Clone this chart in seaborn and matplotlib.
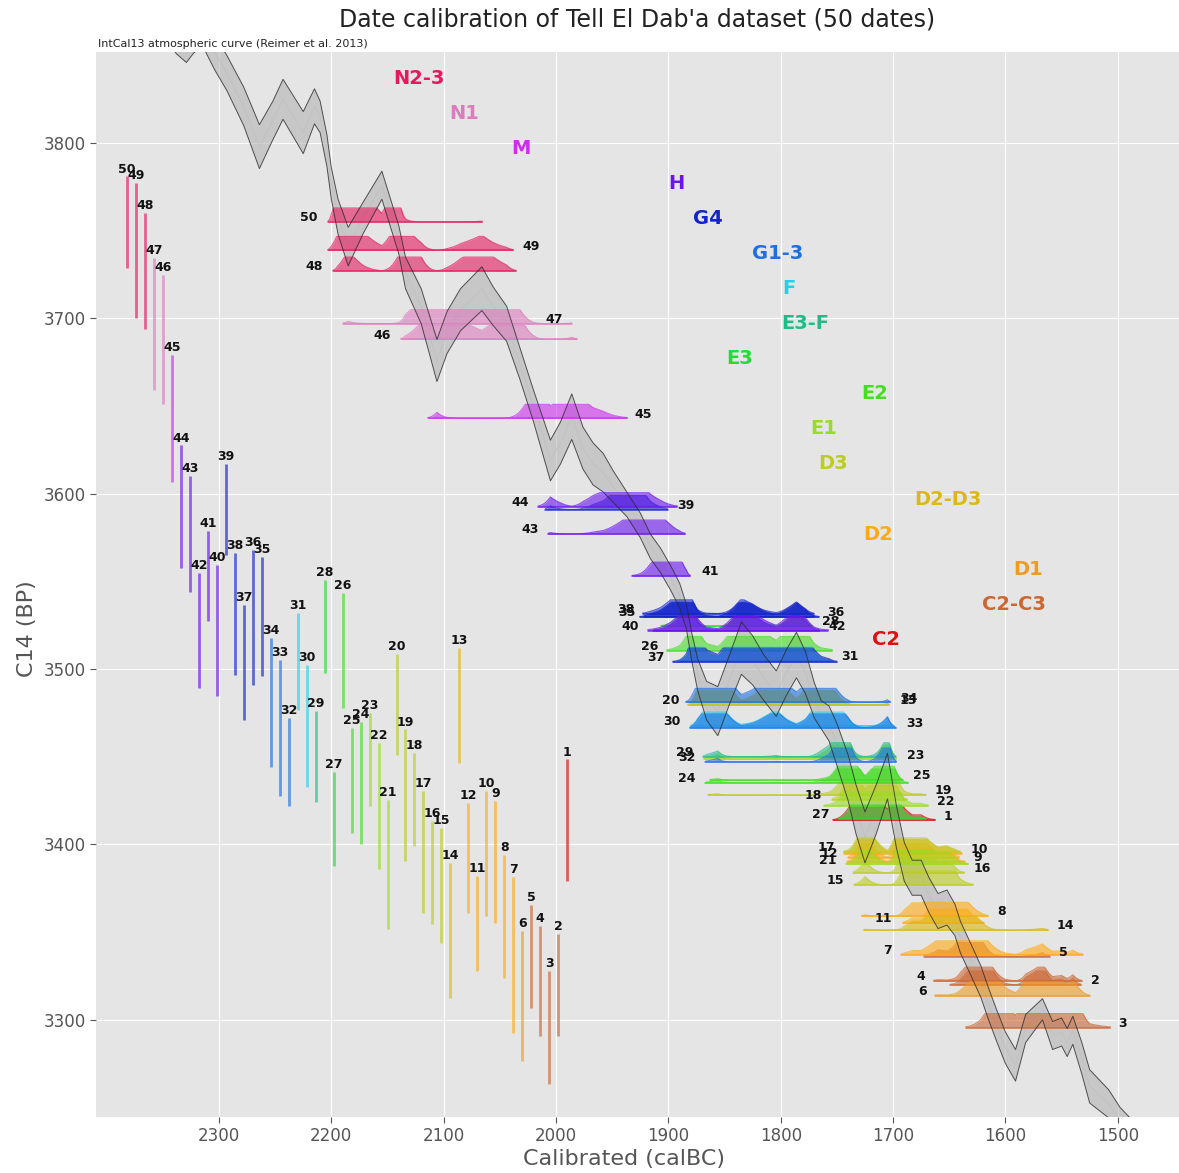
import numpy as np
import pandas as pd
import matplotlib
matplotlib.use("Agg")
import matplotlib.pyplot as plt
import seaborn as sns

# ---------------- calibration curve (IntCal13) ----------------
curve_year = [2410, 2380, 2355, 2338, 2329, 2323, 2315, 2304, 2293, 2278, 2264, 2252, 2243, 2225,
              2215, 2210, 2204, 2200, 2194, 2185, 2172, 2155, 2140, 2134, 2120, 2106, 2097, 2085,
              2066, 2056, 2044, 2032, 2020, 2005, 1996, 1986, 1976, 1967, 1958, 1949, 1937, 1925,
              1916, 1907, 1898, 1890, 1884, 1879, 1874, 1866, 1856, 1845, 1835, 1825, 1815, 1804,
              1795, 1786, 1778, 1770, 1764, 1757, 1750, 1740, 1733, 1725, 1715, 1705, 1697, 1690,
              1683, 1675, 1668, 1660, 1652, 1645, 1640, 1632, 1622, 1615, 1608, 1600, 1591, 1582,
              1567, 1558, 1550, 1545, 1540, 1532, 1525, 1508, 1498, 1480, 1440]
curve_c14 = [3905, 3890, 3878, 3861, 3856, 3861, 3866, 3852, 3840, 3821, 3798, 3813, 3825, 3806,
             3821, 3815, 3796, 3777, 3758, 3741, 3757, 3776, 3745, 3726, 3707, 3676, 3692, 3705,
             3717, 3707, 3697, 3674, 3650, 3619, 3629, 3644, 3626, 3617, 3612, 3604, 3594, 3582,
             3570, 3562, 3552, 3542, 3530, 3512, 3497, 3482, 3476, 3495, 3512, 3505, 3495, 3486,
             3498, 3508, 3498, 3482, 3474, 3469, 3457, 3438, 3420, 3404, 3420, 3439, 3410, 3390,
             3381, 3381, 3371, 3362, 3364, 3357, 3347, 3336, 3322, 3309, 3297, 3284, 3274, 3295,
             3306, 3291, 3293, 3287, 3294, 3278, 3262, 3252, 3242, 3230, 3205]
curve_err = [10, 10, 10, 10, 10, 10, 10, 10, 10, 11, 12.5, 11, 11.4, 12,
             10, 9, 9, 9, 10, 11, 9, 8, 8, 9, 10, 12, 12, 12,
             12.5, 11, 10, 9, 9, 11.6, 12, 13, 12, 12, 11, 9, 7, 7,
             7, 7, 7, 7, 7, 8, 9, 11, 14, 14, 15, 14, 13, 13,
             13, 13, 12, 10, 8, 10, 12, 13, 14, 14.5, 14, 13, 12, 11,
             10, 10, 10, 10, 10, 9, 9, 9, 9, 9, 9, 9, 9, 8,
             6, 8, 8, 8, 8, 9, 9.5, 8, 8, 8, 8]

# ---------------- radiocarbon dates ----------------
date_ids = list(range(1, 51))
date_c14 = [3413.7, 3319.8, 3295.5, 3322.0, 3336.0, 3313.6, 3337.0, 3359.0, 3390.0, 3394.8,
            3355.0, 3392.5, 3479.4, 3351.0, 3376.8, 3383.8, 3395.7, 3425.6, 3428.0, 3479.8,
            3388.6, 3422.0, 3448.5, 3435.0, 3436.6, 3510.6, 3414.5, 3524.4, 3450.0, 3467.5,
            3504.5, 3447.0, 3466.4, 3481.0, 3530.0, 3529.6, 3504.0, 3531.5, 3591.0, 3522.0,
            3553.0, 3522.0, 3577.0, 3592.6, 3643.0, 3688.0, 3697.0, 3727.0, 3738.8, 3755.0]
date_err = [17.4, 14.5, 16.2, 15.7, 14.7, 18.5, 22.3, 17.5, 17.3, 17.8,
            13.5, 15.7, 16.4, 19.3, 16.4, 14.7, 17.4, 13.3, 18.8, 14.3,
            18.5, 18.0, 13.3, 17.5, 15.0, 16.4, 13.5, 13.3, 13.0, 17.5,
            13.8, 12.5, 19.5, 18.3, 17.1, 19.2, 16.4, 17.3, 13.0, 18.8,
            12.8, 16.5, 16.5, 17.5, 18.0, 18.4, 18.8, 16.5, 19.3, 13.0]
date_phase = ["C2", "C2-C3", "C2-C3", "C2-C3", "C2-C3", "D1", "D2", "D2", "D2", "D2",
              "D2", "D2", "D2-D3", "D2-D3", "D3", "D3", "D3", "D3", "D3", "D3",
              "E1", "E1", "E1", "E2", "E2", "E2", "E3", "E3", "E3-F", "F",
              "F", "G1-3", "G1-3", "G1-3", "G4", "G4", "G4", "G4", "G4", "H",
              "H", "H", "H", "H", "M", "N1", "N1", "N2-3", "N2-3", "N2-3"]
label_side = ["R", "R", "R", "L", "R", "L", "L", "R", "R", "R",
              "L", "L", "R", "R", "L", "R", "L", "L", "R", "L",
              "L", "R", "R", "L", "R", "L", "L", "R", "L", "L",
              "R", "L", "R", "R", "L", "R", "L", "L", "R", "L",
              "R", "R", "L", "L", "R", "L", "R", "L", "R", "L"]

# ---------------- phases ----------------
phase_names = ["N2-3", "N1", "M", "H", "G4", "G1-3", "F", "E3-F", "E3", "E2", "E1", "D3",
               "D2-D3", "D2", "D1", "C2-C3", "C2"]
phase_colors = ["#E6195E", "#DD7BBE", "#CC2DEE", "#6A14EE", "#1424CC", "#1E6FE6", "#22D2EA",
                "#22BB88", "#22DD33", "#44DD22", "#99DD22", "#BBCC22", "#DDB814", "#FFAA14",
                "#F09A20", "#CC6633", "#DD1111"]
phase_x = [2122, 2082, 2031, 1893, 1865, 1803, 1793, 1778, 1837, 1716, 1762, 1753,
           1651, 1713, 1580, 1592, 1706]
phase_y = [3837, 3817, 3797, 3777, 3757, 3737, 3717, 3697, 3677, 3657, 3637, 3617,
           3597, 3577, 3557, 3537, 3517]

# ---------------- style ----------------
sns.set_style("darkgrid", {"axes.facecolor": "#E5E5E5", "grid.color": "white",
                           "xtick.bottom": True, "ytick.left": True,
                           "axes.edgecolor": "white"})
plt.rcParams["font.family"] = ["DejaVu Sans"]
plt.rcParams["xtick.color"] = "#555555"
plt.rcParams["ytick.color"] = "#555555"
plt.rcParams["xtick.major.size"] = 4
plt.rcParams["ytick.major.size"] = 4

fig = plt.figure(figsize=(11.79, 11.73), dpi=100)
ax = fig.add_axes([0.0814, 0.048, 0.9186, 0.908])

color_of = dict(zip(phase_names, phase_colors))

# calibration curve band
cy = np.array(curve_year, float)
cc = np.array(curve_c14, float)
ce = np.array(curve_err, float)
ax.fill_between(cy, cc - ce, cc + ce, color="#b0b0b0", alpha=0.55, lw=0, zorder=1)
band = pd.DataFrame({"year": cy, "up": cc + ce, "lo": cc - ce, "mid": cc})
sns.lineplot(data=band, x="year", y="mid", color="#c2c2c2", lw=0.8, sort=False,
             estimator=None, ax=ax, zorder=2)
for col in ["up", "lo"]:
    sns.lineplot(data=band, x="year", y=col, color="#2a2a2a", lw=0.7, alpha=0.8,
                 sort=False, estimator=None, ax=ax, zorder=6)

# calibrated distributions (band drawn at +-2 sigma of the curve)
grid = np.arange(2420.0, 1440.0, -0.5)
asc = np.argsort(cy)
mu = np.interp(grid, cy[asc], cc[asc])
sig = np.interp(grid, cy[asc], ce[asc]) / 2.0
ridge_h = 8.0
for n, m, s, ph, side in zip(date_ids, date_c14, date_err, date_phase, label_side):
    colr = color_of[ph]
    var = s ** 2 + sig ** 2
    like = np.exp(-0.5 * (m - mu) ** 2 / var) / np.sqrt(var)
    like = like / like.max()
    idx = np.flatnonzero(like > 0.025)
    lo, hi = idx[0], idx[-1]
    xs = grid[lo:hi + 1]
    hs = ridge_h * np.clip(like[lo:hi + 1] * 2.0, 0, 1)
    ax.fill_between(xs, m, m + hs, color=colr, alpha=0.6, lw=0, zorder=3)
    ax.plot(xs, m + hs, color=colr, lw=0.8, alpha=0.7, zorder=3)
    ax.plot([xs[0], xs[-1]], [m, m], color=colr, lw=1.1, alpha=0.85, zorder=3)
    core = np.flatnonzero(like > 0.04)
    if side == "L":
        ax.text(grid[core[0]] + 10, m + 2.5, str(n), ha="right", va="center", fontsize=9,
                fontweight="bold", color="#111111", zorder=7)
    else:
        ax.text(grid[core[-1]] - 10, m + 2.5, str(n), ha="left", va="center", fontsize=9,
                fontweight="bold", color="#111111", zorder=7)

# measured C14 ranges (2 sigma) as vertical lines
for n, m, s, ph in zip(date_ids, date_c14, date_err, date_phase):
    xpos = 1990 + (n - 1) * 8
    ax.plot([xpos, xpos], [m - 2 * s, m + 2 * s], color=color_of[ph], lw=2.0, alpha=0.65,
            solid_capstyle="butt", zorder=3)
    ax.text(xpos, m + 2 * s + 0.5, str(n), ha="center", va="bottom", fontsize=9,
            fontweight="bold", color="#111111", zorder=7)

# phase labels
for name, colr, x, y in zip(phase_names, phase_colors, phase_x, phase_y):
    ax.text(x, y, name, color=colr, fontsize=14, fontweight="bold", ha="center",
            va="center", zorder=7)

ax.set_xlim(2409.5, 1445.5)
ax.set_ylim(3244.7, 3852.2)
ax.set_xticks([2300, 2200, 2100, 2000, 1900, 1800, 1700, 1600, 1500])
ax.set_yticks([3300, 3400, 3500, 3600, 3700, 3800])
ax.tick_params(labelsize=12, colors="#555555")
ax.set_xlabel("Calibrated (calBC)", fontsize=16, color="#555555")
ax.set_ylabel("C14 (BP)", fontsize=16, color="#555555")
ax.xaxis.set_label_coords(0.488, -0.03)
ax.yaxis.set_label_coords(-0.054, 0.458)
ax.set_title("Date calibration of Tell El Dab'a dataset (50 dates)", fontsize=17,
             color="#222222", pad=18)
ax.text(0.002, 1.002, "IntCal13 atmospheric curve (Reimer et al. 2013)", transform=ax.transAxes,
        ha="left", va="bottom", fontsize=8, color="#222222")
for sp in ax.spines.values():
    sp.set_visible(False)

fig.savefig("out.png", dpi=100)
